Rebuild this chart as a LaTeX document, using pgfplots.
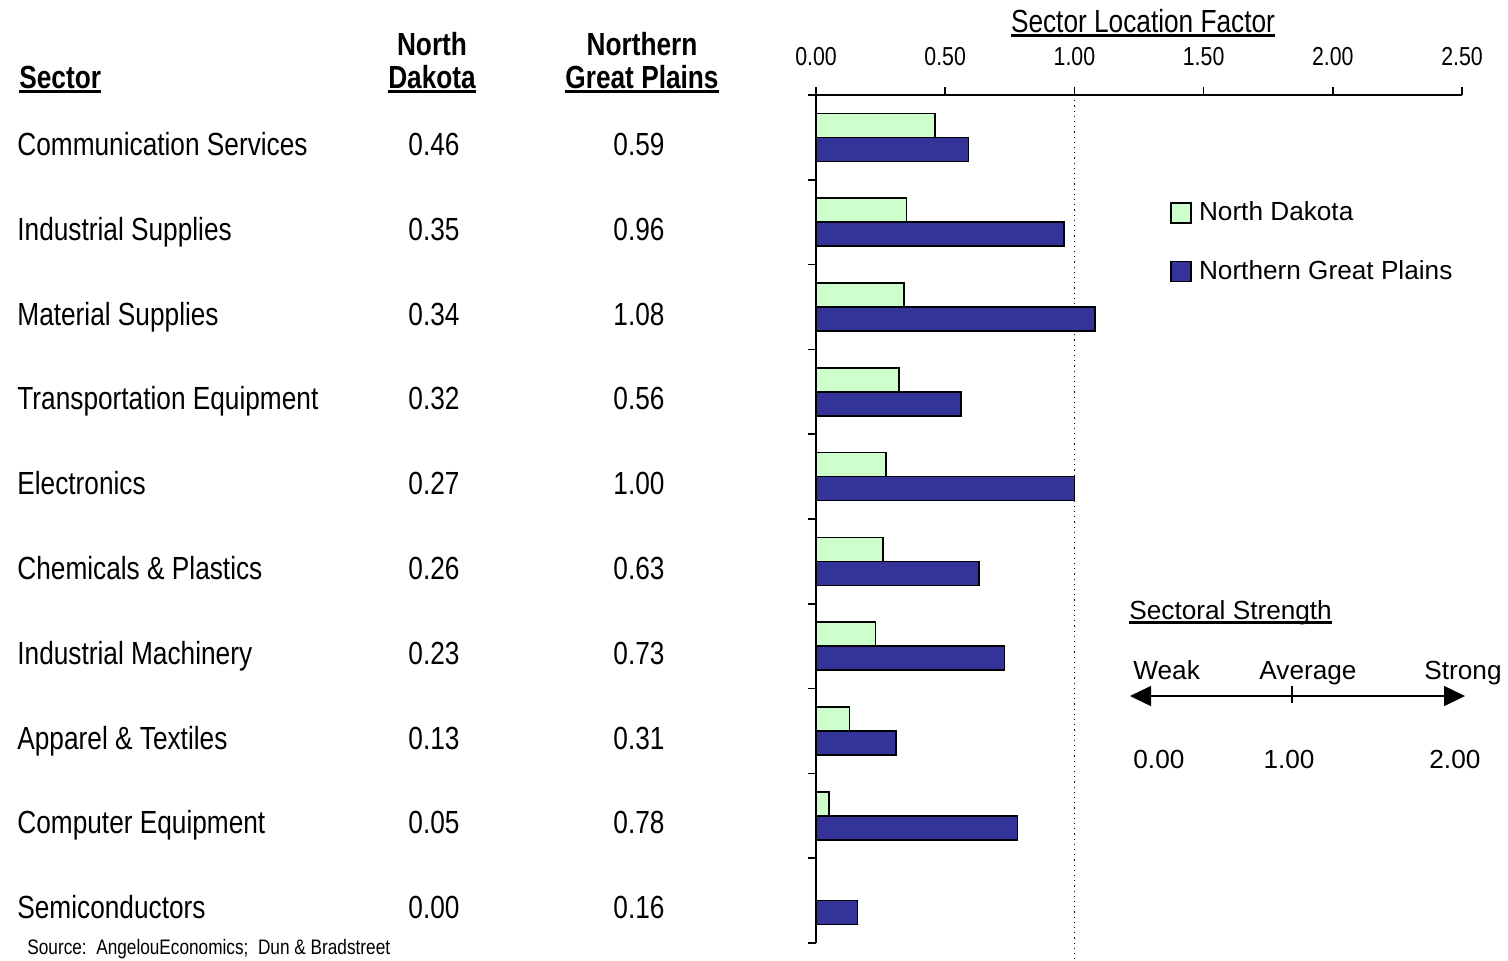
\documentclass[border=0pt]{standalone}
\usepackage{pgfplots}
\pgfplotsset{compat=1.18}
\usepackage{pgfplotstable}
\usepackage{fontspec}
\usetikzlibrary{arrows.meta}
\setmainfont{Liberation Sans}
\newfontfamily\narrowfam{Liberation Sans}[FakeStretch=0.82]

\definecolor{ndgreen}{HTML}{CCFFCC}
\definecolor{ngpblue}{HTML}{333399}

\newcommand\nar{\narrowfam\fontsize{16}{19}\selectfont}
\newcommand\nartick{\narrowfam\fontsize{13}{15}\selectfont}
\newcommand\narsmall{\narrowfam\fontsize{10.5}{12}\selectfont}
\newcommand\reg{\rmfamily\fontsize{13.1}{15}\selectfont}
% underline drawn a little below the baseline
\newcommand\ul[1]{\setbox0\hbox{#1}\rlap{\rule[-2.3pt]{\wd0}{1.2pt}}\box0}

% sector location factors
\pgfplotstableread[col sep=comma]{
sector,nd,ngp
Communication Services,0.46,0.59
Industrial Supplies,0.35,0.96
Material Supplies,0.34,1.08
Transportation Equipment,0.32,0.56
Electronics,0.27,1.00
Chemicals \& Plastics,0.26,0.63
Industrial Machinery,0.23,0.73
Apparel \& Textiles,0.13,0.31
Computer Equipment,0.05,0.78
Semiconductors,0.00,0.16
}\sectors

\begin{document}
\begin{tikzpicture}
\useasboundingbox (0,0) rectangle (754pt,-480pt);

\begin{axis}[
  at={(408pt,-47.5pt)}, anchor=north west,
  scale only axis, width=323pt, height=424pt,
  xmin=0, xmax=2.5, ymin=-0.5, ymax=9.5,
  axis x line*=top, axis y line*=left,
  axis line style={-, line width=0.8pt},
  xtick={0,0.5,1,1.5,2,2.5},
  ytick={-0.5,0.5,1.5,2.5,3.5,4.5,5.5,6.5,7.5,8.5,9.5},
  yticklabels={},
  tick align=outside, major tick length=4pt,
  tick style={black, line width=0.8pt},
  xticklabel style={font=\nartick, yshift=7pt,
    /pgf/number format/.cd, fixed, fixed zerofill, precision=2, assume math mode=true},
  bar width=12pt,
  clip=false,
  legend style={at={(axis cs:1.37,8.27)}, anchor=north west, draw=none, fill=none,
    font=\reg, row sep=16.5pt, inner sep=0pt,
    nodes={inner sep=1pt},
    /tikz/every odd column/.style={column sep=2.5pt}},
  legend cell align=left,
  legend image code/.code={\draw[#1, line width=0.8pt] (0pt,-5pt) rectangle (10pt,5pt);},
]
\addplot[black, dotted, line width=0.6pt, forget plot] coordinates {(1,9.5) (1,-0.75)};
\addplot[xbar, bar shift=6pt, fill=ndgreen, draw=black, line width=0.8pt]
  table[x=nd, y expr=9-\coordindex] {\sectors};
\addplot[xbar, bar shift=-6pt, fill=ngpblue, draw=black, line width=0.8pt]
  table[x=ngp, y expr=9-\coordindex] {\sectors};
\legend{North Dakota, Northern Great Plains}
\end{axis}

\begin{scope}[x=0.5pt, y=-0.5pt]
  % column headers
  \node[anchor=base west, inner sep=0pt, font=\nar\bfseries] at (19,88) {\ul{Sector}};
  \node[anchor=base, inner sep=0pt, font=\nar\bfseries] at (432,55) {North};
  \node[anchor=base, inner sep=0pt, font=\nar\bfseries] at (432,88) {\ul{Dakota}};
  \node[anchor=base, inner sep=0pt, font=\nar\bfseries] at (642,55) {Northern};
  \node[anchor=base, inner sep=0pt, font=\nar\bfseries] at (642,88) {\ul{Great Plains}};
  \node[anchor=base, inner sep=0pt, font=\nar] at (1143,32) {\ul{Sector Location Factor}};

  % table rows
  \foreach \i in {0,...,9} {
    \pgfmathsetmacro\yy{95+84.8*(\i+0.5)+18}
    \pgfplotstablegetelem{\i}{sector}\of\sectors
    \node[anchor=base west, inner sep=0pt, font=\nar] at (17,\yy) {\pgfplotsretval};
    \pgfplotstablegetelem{\i}{nd}\of\sectors
    \node[anchor=base, inner sep=0pt, font=\nar] at (434,\yy)
      {\pgfmathprintnumber[fixed, fixed zerofill, precision=2, assume math mode=true]{\pgfplotsretval}};
    \pgfplotstablegetelem{\i}{ngp}\of\sectors
    \node[anchor=base, inner sep=0pt, font=\nar] at (639,\yy)
      {\pgfmathprintnumber[fixed, fixed zerofill, precision=2, assume math mode=true]{\pgfplotsretval}};
  }

  % sectoral strength scale
  \node[anchor=base west, inner sep=0pt, font=\reg] at (1129,619) {\ul{Sectoral Strength}};
  \node[anchor=base west, inner sep=0pt, font=\reg] at (1133,679) {Weak};
  \node[anchor=base, inner sep=0pt, font=\reg] at (1308,679) {Average};
  \node[anchor=base west, inner sep=0pt, font=\reg] at (1424,679) {Strong};
  \draw[line width=0.7pt, {Triangle[length=10.5pt,width=10pt]}-{Triangle[length=10.5pt,width=10pt]}]
    (1130,696) -- (1465,696);
  \draw[line width=0.7pt] (1292,686) -- (1292,703);
  \node[anchor=base west, inner sep=0pt, font=\reg] at (1133,768) {0.00};
  \node[anchor=base, inner sep=0pt, font=\reg] at (1289,768) {1.00};
  \node[anchor=base west, inner sep=0pt, font=\reg] at (1429,768) {2.00};

  \node[anchor=base west, inner sep=0pt, font=\narsmall] at (27,954)
    {Source:\ \ AngelouEconomics;\ \ Dun \& Bradstreet};
\end{scope}
\end{tikzpicture}
\end{document}
